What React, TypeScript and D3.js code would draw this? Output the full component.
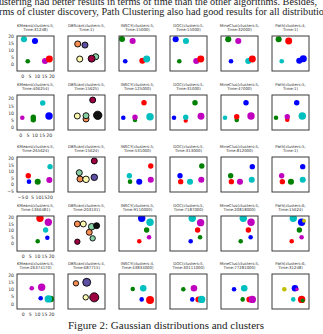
import React from "react";
import * as d3 from "d3";

// ---- data ----
const algorithms = ["KMeans", "DBScan", "INSCY", "DOC", "MineClus", "Path"];
const clusterCounts = [
  [5, 5, 5, 5, 5, 4],
  [5, 5, 5, 5, 5, 5],
  [5, 5, 5, 5, 5, 5],
  [5, 5, 5, 5, 5, 6],
  [5, 4, 4, 5, 5, 6],
];
const times = [
  [31248, 1, 15000, 15000, 32000, 1],
  [406254, 15625, 125000, 31000, 47000, 1],
  [265624, 15624, 531000, 313000, 812000, 1],
  [1366481, 203131, 9110000, 7187000, 20818000, 15624],
  [26374170, 687715, 43834000, 30111000, 77281000, 31248],
];
const xTicks = [
  [0, 5, 10, 15, 20],
  [0, 5, 10, 15, 20],
  [-5, 0, 5, 10, 15, 20],
  [0, 5, 10, 15, 20],
  [0, 5, 10, 15, 20],
];
const yTicks = [
  [0, 5, 10, 15, 20],
  [0, 5, 10, 15, 20],
  [-5, 0, 5, 10, 15, 20],
  [0, 5, 10, 15, 20],
  [0, 5, 10, 15, 20],
];
const xDomains = [
  [-4, 21.5],
  [-2.6, 23.3],
  [-8.4, 23.4],
  [-4.4, 21.7],
  [-4.4, 21.7],
];
const yDomains = [
  [-5, 20.5],
  [-1.8, 22.7],
  [-5.5, 21],
  [-5.5, 21.3],
  [-3.3, 20.7],
];

// cluster blobs: [x, y, spread, label]
type Blob = [number, number, number, string];
const row1Clusters: Blob[][] = [
  [[0.8, 18.1, 2.1, "c"], [8.4, 16.9, 2.1, "b"], [3.4, 2.1, 1.6, "g"], [15.3, 2.3, 2.1, "m"], [18.3, 3.7, 2.4, "r"]],
  [[2.7, 14.7, 2.1, "S1"], [7.7, 13.9, 2.1, "S4"], [4.1, 3.7, 2.1, "S2"], [15.1, 5.4, 2.1, "S3"], [12.3, 4, 2.4, "S0"]],
  [[-1.9, 18.3, 2.1, "g"], [5.4, 16.9, 2.1, "m"], [0.3, 2.1, 1.6, "b"], [12.1, 2.5, 2.1, "r"], [15.1, 3.7, 2.4, "c"]],
  [[-0.1, 18.1, 2.1, "b"], [7, 16.9, 2.1, "c"], [2.4, 2.1, 1.6, "g"], [14.1, 2.3, 2.1, "m"], [17.2, 3.7, 2.4, "r"]],
  [[1, 18.1, 2.1, "g"], [7.9, 16.9, 2.1, "m"], [2.9, 2.1, 1.6, "b"], [14.8, 2.3, 2.1, "c"], [17.6, 3.7, 2.4, "r"]],
  [[0.6, 18.1, 2.1, "g"], [7.5, 16.9, 2.4, "r"], [2.7, 2.1, 1.6, "c"], [14.8, 2.5, 2.1, "b"], [17.6, 3.9, 2.4, "b"]],
];
const row2Clusters: Blob[][] = [
  [[1.1, 6.8, 1.6, "m"], [8.8, 7.1, 1.9, "g"], [8.8, 5.4, 1.9, "g"], [15.4, 17.1, 1.9, "c"], [19.8, 8, 2.6, "b"]],
  [[14.7, 19.2, 2.1, "S0"], [3.9, 8, 2.1, "S2"], [10, 5.9, 2.1, "S1"], [10, 8.2, 2.1, "S3"], [18.2, 8.5, 2.9, "k"]],
  [[14.9, 17.3, 1.9, "r"], [0.4, 6.8, 1.6, "b"], [8.6, 5.2, 1.6, "g"], [8.6, 7.1, 1.9, "m"], [19.1, 7.5, 2.6, "c"]],
  [[14.9, 17.3, 1.9, "g"], [0.2, 6.8, 1.6, "b"], [8.4, 4.7, 1.5, "r"], [8.4, 7.1, 1.9, "c"], [19.1, 7.8, 2.4, "m"]],
  [[14.9, 17.3, 1.9, "b"], [0.2, 6.8, 1.6, "c"], [8.4, 5.2, 1.6, "g"], [8.4, 7.5, 1.9, "r"], [18.4, 8, 2.6, "m"]],
  [[14.7, 17.3, 1.9, "b"], [0.2, 6.8, 1.6, "g"], [8.1, 5.4, 1.6, "r"], [8.1, 7.5, 1.9, "m"], [18.6, 8, 2.6, "c"]],
];
const row3Clusters: Blob[][] = [
  [[20, 13.7, 2.3, "c"], [1.3, 6.8, 2.3, "r"], [1.9, 2.3, 2.0, "b"], [9.4, 2.3, 2.6, "g"], [19.4, 3.6, 2.6, "m"]],
  [[14.2, 18, 2.6, "S0"], [1.3, 9.1, 2.6, "S3"], [1.9, 4.3, 2.6, "S1"], [7.1, 4.1, 2.8, "S2"], [14.2, 5.6, 2.8, "S4"]],
  [[18.9, 14.2, 2.3, "r"], [0.5, 6.8, 2.3, "c"], [1.1, 2.3, 2.0, "g"], [9, 2.3, 2.6, "b"], [18.9, 3.8, 2.6, "m"]],
  [[18.9, 14.2, 2.3, "g"], [0.2, 6.8, 2.3, "b"], [0.8, 2.3, 2.3, "r"], [8.8, 2.3, 2.6, "c"], [18.5, 3.8, 2.6, "m"]],
  [[18.5, 13.7, 2.3, "b"], [-0.1, 6.8, 2.3, "g"], [0.5, 2.3, 2.3, "r"], [7.9, 2.3, 2.6, "m"], [18, 3.8, 2.6, "c"]],
  [[18, 13.7, 2.3, "b"], [-0.1, 6.8, 2.3, "m"], [0.5, 2.3, 2.3, "r"], [7.9, 2.3, 2.6, "g"], [18, 3.8, 2.6, "c"]],
];
const row4Clusters: Blob[][] = [
  [[11.8, 19.5, 2.6, "r"], [17.7, 16.5, 2.6, "m"], [15.8, 10.6, 1.9, "c"], [17, 4.7, 1.6, "b"], [10.2, 1.9, 1.6, "g"]],
  [[2.2, 15.2, 2.1, "S1"], [6.4, 15.2, 2.1, "S2"], [12.3, 13.1, 2.3, "S3"], [15.8, 13.9, 2.1, "k"], [10.6, 8.8, 2.1, "S1"], [13, 4.2, 1.9, "S3"], [2.2, 1.6, 1.9, "S0"]],
  [[11.6, 19.5, 2.6, "b"], [17.5, 16.5, 2.6, "c"], [15.1, 10.6, 1.9, "g"], [16.8, 5, 1.6, "m"], [9.9, 1.9, 1.6, "r"]],
  [[11.3, 19.5, 2.6, "c"], [17.2, 16.2, 2.6, "m"], [15.1, 10.6, 1.9, "r"], [16.8, 5, 1.6, "g"], [10.2, 1.9, 1.6, "b"]],
  [[11.3, 19.5, 2.6, "c"], [16.8, 16.5, 2.6, "m"], [14.9, 10.6, 1.9, "r"], [16.5, 5, 1.6, "b"], [9.5, 1.9, 1.6, "g"]],
  [[10.6, 19.5, 2.6, "c"], [16.5, 16.5, 2.6, "b"], [18.2, 17.7, 1.4, "y"], [14.9, 10.6, 1.9, "g"], [16.5, 5, 1.6, "m"], [9.5, 1.9, 1.6, "r"]],
];
const row5Clusters: Blob[][] = [
  [[6, 10.9, 1.6, "m"], [13, 11.6, 2.6, "m"], [12.3, 4, 1.6, "b"], [19.4, 3.6, 2.3, "g"], [17.7, 3.6, 2.6, "c"]],
  [[1.2, 14.3, 1.9, "S1"], [8.8, 15, 2.8, "S4"], [8.1, 4.7, 1.9, "S2"], [14.1, 4.7, 3.2, "S0"]],
  [[5.3, 10.4, 1.6, "g"], [12.7, 10.9, 2.3, "c"], [11.6, 3.3, 1.6, "b"], [17.5, 2.9, 2.8, "r"]],
  [[5, 10.2, 1.6, "g"], [12.5, 10.9, 2.3, "m"], [11.3, 3.3, 1.6, "b"], [15.6, 3.3, 2.1, "r"], [17.9, 3.3, 2.6, "c"]],
  [[4.8, 10.2, 1.6, "b"], [12, 10.9, 2.3, "c"], [10.9, 3.3, 1.6, "g"], [15.6, 3.3, 2.1, "r"], [17.7, 3.3, 2.6, "m"]],
  [[4.3, 10.2, 1.6, "y"], [11.8, 10.9, 2.3, "b"], [13.2, 10.2, 1.2, "m"], [10.6, 3.3, 1.6, "c"], [16.5, 3.3, 2.6, "r"], [17.2, 2.6, 1.4, "g"]],
];
const allClusters = [row1Clusters, row2Clusters, row3Clusters, row4Clusters, row5Clusters];

const textLine1 = "ustering had better results in terms of time than the other algorithms. Besides,";
const textLine2 = "rms of cluster discovery, Path Clustering also had good results for all distributions";
const caption = "Figure 2: Gaussian distributions and clusters";

// ---- styling / layout ----
const W = 323;
const H = 334;
const PW = 37;
const PH = 35;
const colLeft = (i: number) => 17 + 51 * i;
const rowTops = [36, 95, 157, 216, 274];

const classic: Record<string, string> = {
  b: "#0000ff",
  g: "#008000",
  r: "#ff0000",
  c: "#00bfbf",
  m: "#bf00bf",
  y: "#bfbf00",
  k: "#111111",
};
const colorOf = (lab: string) => {
  if (lab.startsWith("S")) {
    const idx = +lab.slice(1);
    return d3.interpolateSpectral(idx / 4);
  }
  return classic[lab];
};

const fmtTick = (v: number) => (v < 0 ? "\u2212" + Math.abs(v) : String(v));

function Panel({ r, c }: { r: number; c: number }) {
  const x = d3.scaleLinear().domain(xDomains[r]).range([0, PW]);
  const y = d3.scaleLinear().domain(yDomains[r]).range([PH, 0]);
  const blobs = allClusters[r][c];
  const isDb = algorithms[c] === "DBScan";
  const left = colLeft(c);
  const top = rowTops[r];
  return (
    <g transform={`translate(${left},${top})`}>
      <text x={PW / 2} y={-9.5} textAnchor="middle" fontSize={3.9} fill="#333">
        {`${algorithms[c]}(clusters:${clusterCounts[r][c]},`}
      </text>
      <text x={PW / 2} y={-5.3} textAnchor="middle" fontSize={3.9} fill="#333">
        {`Time:${times[r][c]})`}
      </text>
      <clipPath id={`clip-${r}-${c}`}>
        <rect x={0} y={0} width={PW} height={PH} />
      </clipPath>
      <g clipPath={`url(#clip-${r}-${c})`}>
        {blobs.map((b, i) => {
          const rad = x(xDomains[r][0] + b[2]) - x(xDomains[r][0]);
          return (
            <circle
              key={i}
              cx={x(b[0])}
              cy={y(b[1])}
              r={rad}
              fill={colorOf(b[3])}
              stroke={isDb ? "#000" : "none"}
              strokeWidth={isDb ? 0.9 : 0}
            />
          );
        })}
      </g>
      <rect x={0} y={0} width={PW} height={PH} fill="none" stroke="#3a3a3a" strokeWidth={1} />
      {c === 0 && (
        <g fontSize={4.6} fill="#333">
          {yTicks[r].map((t) => (
            <text key={"y" + t} x={-3} y={y(t) + 1.6} textAnchor="end">
              {fmtTick(t)}
            </text>
          ))}
          {xTicks[r].map((t) => (
            <text key={"x" + t} x={x(t)} y={PH + 7} textAnchor="middle">
              {fmtTick(t)}
            </text>
          ))}
        </g>
      )}
    </g>
  );
}

export default function App() {
  return (
    <svg
      width={W}
      height={H}
      viewBox={`0 0 ${W} ${H}`}
      style={{ position: "absolute", left: 0, top: 0, background: "#fff" }}
      fontFamily="DejaVu Sans, sans-serif"
    >
      <rect width={W} height={H} fill="#fff" />
      <g fontFamily="Liberation Serif, Times New Roman, serif" fontSize={11} fill="#222">
        <text x={-1} y={4.5} textLength={318} lengthAdjust="spacingAndGlyphs">
          {textLine1}
        </text>
        <text x={-1} y={15} textLength={334} lengthAdjust="spacingAndGlyphs">
          {textLine2}
        </text>
      </g>
      {allClusters.map((row, r) => row.map((_, c) => <Panel key={`${r}-${c}`} r={r} c={c} />))}
      <text
        x={68}
        y={329}
        fontFamily="Liberation Serif, Times New Roman, serif"
        fontSize={11}
        fill="#222"
        textLength={196}
        lengthAdjust="spacingAndGlyphs"
      >
        {caption}
      </text>
    </svg>
  );
}
